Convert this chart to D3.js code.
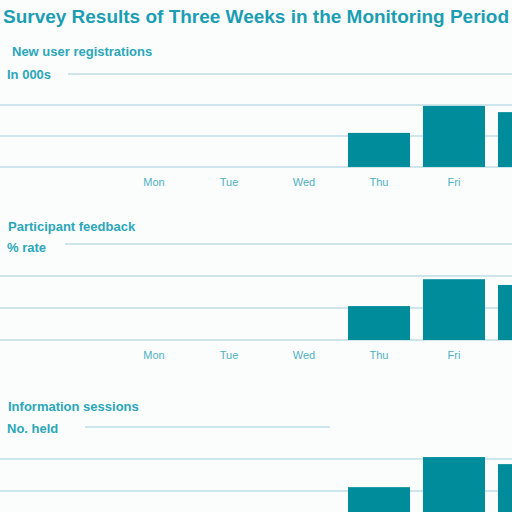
<!DOCTYPE html>
<html>
<head>
<meta charset="utf-8">
<script src="https://cdn.jsdelivr.net/npm/d3@7"></script>
<style>
  body { margin: 0; background: #fbfcfc; }
  svg { display: block; }
</style>
</head>
<body>
<div id="chart"></div>
<script>
// data
const days = ["Mon", "Tue", "Wed", "Thu", "Fri", "Sat"];
const registrations = [0, 0, 0, 1.1, 1.97, 1.77];
const feedback = [0, 0, 0, 1.06, 1.9, 1.72];
const sessions = [0, 0, 0, 1.12, 2.06, 1.84];
const panelTitles = ["New user registrations", "Participant feedback", "Information sessions"];
const panelUnits = ["In 000s", "% rate", "No. held"];

const width = 512, height = 512;

const svg = d3.select("#chart")
    .append("svg")
    .attr("width", width)
    .attr("height", height);

svg.append("text")
    .attr("x", width / 2)
    .attr("y", 23)
    .attr("text-anchor", "middle")
    .attr("textLength", 506)
    .attr("lengthAdjust", "spacingAndGlyphs")
    .attr("font-family", "Liberation Sans, Arial, sans-serif")
    .attr("font-weight", "bold")
    .attr("font-size", "18px")
    .attr("fill", "#1b9eb3")
    .text("Survey Results of Three Weeks in the Monitoring Period");

// shared x scale, bars run off the right edge like the reference
const x = d3.scaleBand()
    .domain(days)
    .range([116.5, 566.5])
    .paddingInner(0.173)
    .paddingOuter(0.0865);

// layout for each panel (positions only)
const panels = [
    { values: registrations, base: 167, unit: 31, t1: 56, t2: 79, gx0: 68, gx1: width, labels: true },
    { values: feedback, base: 340, unit: 32, t1: 231, t2: 252, gx0: 65, gx1: width, labels: true },
    { values: sessions, base: 523, unit: 32, t1: 411, t2: 433, gx0: 85, gx1: 330, labels: false }
];

panels.forEach((p, i) => {
    const g = svg.append("g");
    const y = d3.scaleLinear()
        .domain([0, 3])
        .range([p.base, p.base - 3 * p.unit]);

    // gridlines
    g.selectAll("line.grid")
        .data(y.ticks(3))
        .enter()
        .append("line")
        .attr("class", "grid")
        .attr("x1", d => d === 3 ? p.gx0 : 0)
        .attr("x2", d => d === 3 ? p.gx1 : width)
        .attr("y1", d => y(d))
        .attr("y2", d => y(d))
        .attr("stroke", "#cde5eb")
        .attr("stroke-width", 2);

    // bars
    g.selectAll("rect")
        .data(days.map((d, j) => ({ day: d, value: p.values[j] })).filter(d => d.value > 0))
        .enter()
        .append("rect")
        .attr("x", d => x(d.day))
        .attr("y", d => y(d.value))
        .attr("width", x.bandwidth())
        .attr("height", d => y(0) - y(d.value))
        .attr("fill", "#018c9b");

    // panel headings
    g.append("text")
        .attr("x", i === 0 ? 12 : 8)
        .attr("y", p.t1)
        .attr("font-family", "Liberation Sans, Arial, sans-serif")
        .attr("font-weight", "bold")
        .attr("font-size", "13px")
        .attr("fill", "#2aa7b9")
        .text(panelTitles[i]);

    g.append("text")
        .attr("x", 7)
        .attr("y", p.t2)
        .attr("font-family", "Liberation Sans, Arial, sans-serif")
        .attr("font-weight", "bold")
        .attr("font-size", "13px")
        .attr("fill", "#2aa7b9")
        .text(panelUnits[i]);

    // x labels, only for bands whose centre is on the page
    if (p.labels) {
        g.selectAll("text.tick")
            .data(days.filter(d => x(d) + x.bandwidth() / 2 < width - 20))
            .enter()
            .append("text")
            .attr("class", "tick")
            .attr("x", d => x(d) + x.bandwidth() / 2)
            .attr("y", p.base + 19)
            .attr("text-anchor", "middle")
            .attr("font-family", "Liberation Sans, Arial, sans-serif")
            .attr("font-size", "11px")
            .attr("fill", "#4eb1c3")
            .text(d => d);
    }
});
</script>
</body>
</html>
